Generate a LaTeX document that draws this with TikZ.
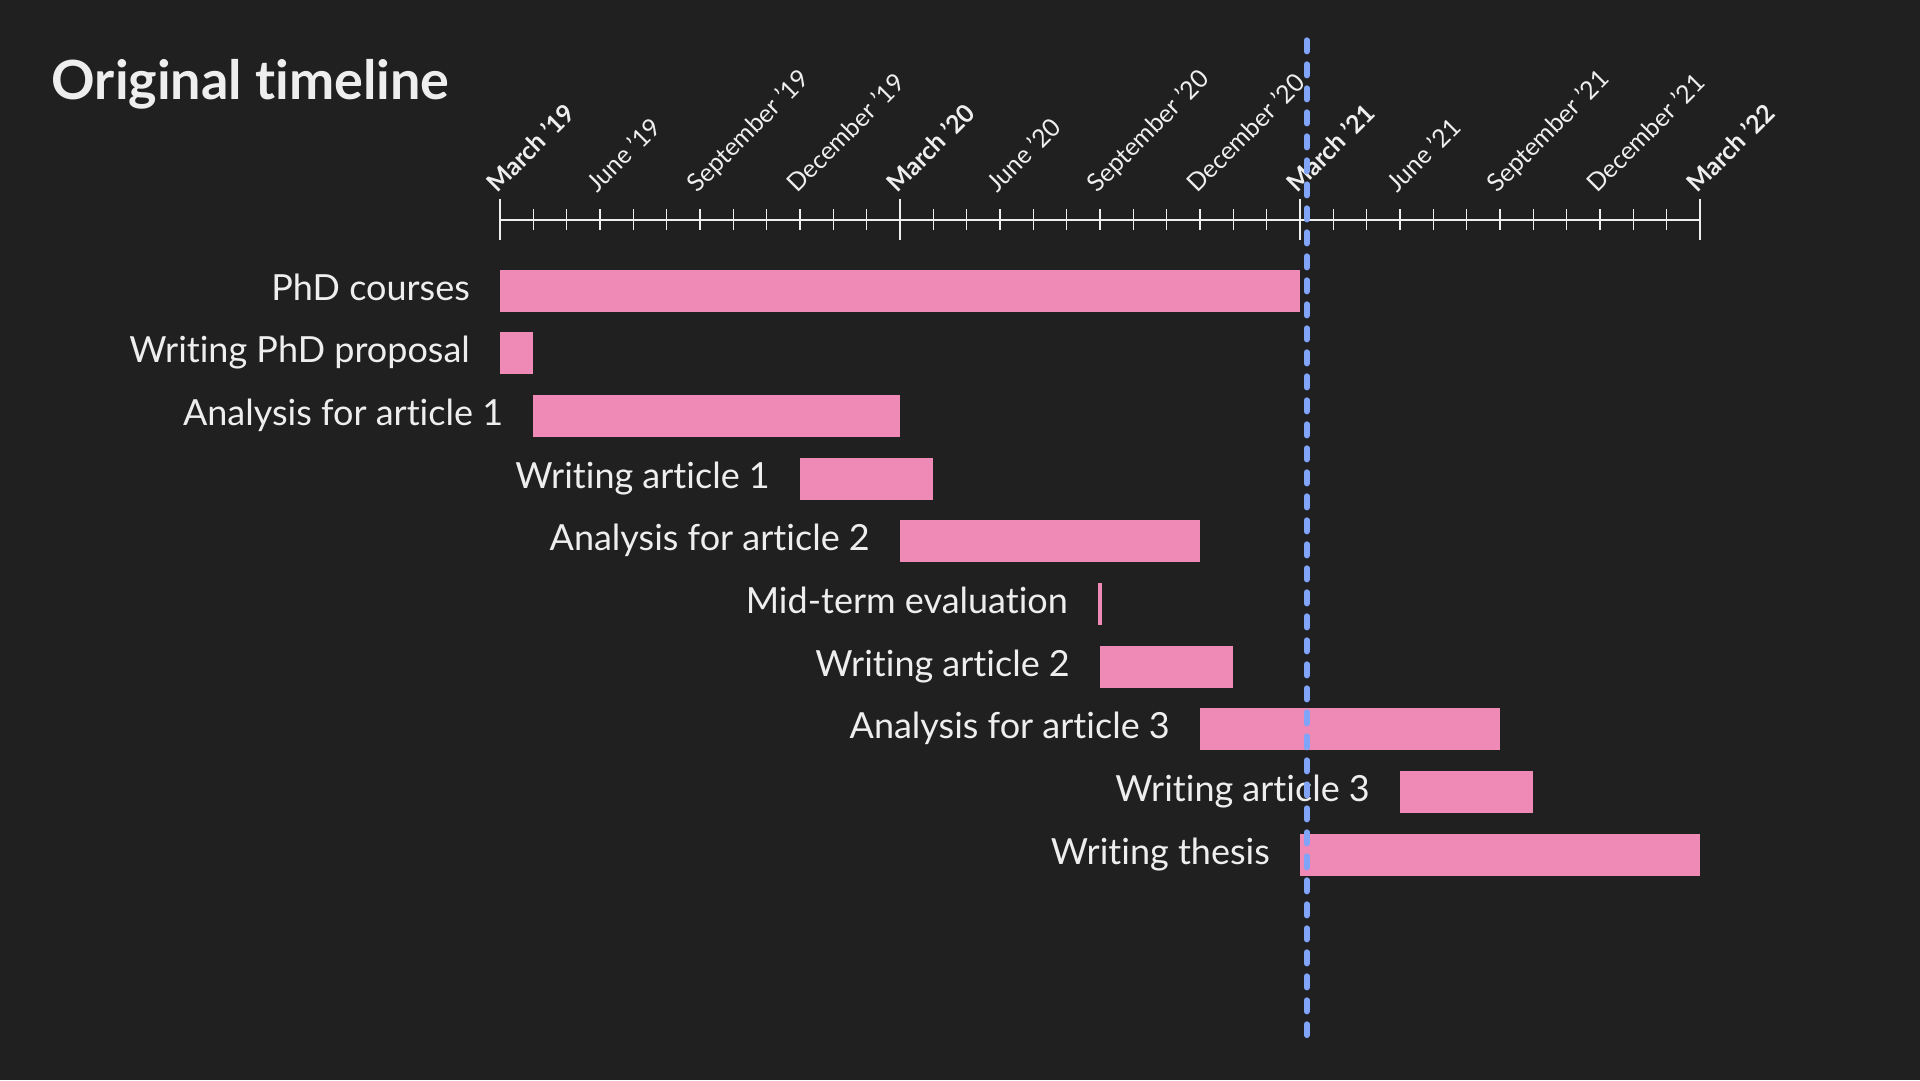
\documentclass[tikz,border=0pt]{standalone}
\usepackage{fontspec}
\setmainfont{Lato}[Ligatures=NoCommon]
\definecolor{bg}{HTML}{202020}
\definecolor{barpink}{HTML}{EF89B5}
\definecolor{nowblue}{HTML}{80A4F8}
\definecolor{txt}{HTML}{EEEEEE}
\begin{document}
\begin{tikzpicture}[x=1pt,y=-1pt,
  bar/.style={fill=barpink, draw=none, inner sep=0pt, outer sep=0pt, minimum height=42pt, anchor=west},
  lbl/.style={text=txt, inner sep=0pt, font=\fontsize{36}{42}\selectfont, anchor=base east},
  title/.style={text=txt, inner sep=0pt, font=\bfseries\fontsize{54}{60}\selectfont, anchor=base west},
  axisline/.style={draw=txt, line width=2pt},
  bigtick/.style={draw=txt, line width=2pt},
  smalltick/.style={draw=txt, line width=1.6pt},
  ticklbl/.style={text=txt, inner sep=0pt, font=\fontsize{25}{29}\selectfont, anchor=base west, rotate=45},
  yearlbl/.style={ticklbl, font=\bfseries\fontsize{25}{29}\selectfont},
  nowline/.style={draw=nowblue, line width=5.7pt, line cap=round, dash pattern=on 11.3pt off 12.7pt}]
\fill[bg] (0,0) rectangle (1920,1080);
\useasboundingbox (0,0) rectangle (1920,1080);

% title
\node[title] (title) at (51.5,99) {Original timeline};

% axis
\coordinate (a0) at (500,220);
\coordinate (a1) at (1700,220);
\draw[axisline] (a0) -- (a1);
\foreach \m in {0,...,36}{
  \pgfmathtruncatemacro\r{mod(\m,12)}
  \ifnum\r=0
    \draw[bigtick] ([yshift=21pt]a0.center) ++(\m*33.3333,0) -- ++(0,41);
  \else
    \draw[smalltick] ([yshift=11pt]a0.center) ++(\m*33.3333,0) -- ++(0,21);
  \fi
}
\foreach \m/\t in {0/{March ’19},12/{March ’20},24/{March ’21},36/{March ’22}}{
  \pgfmathsetmacro\lx{497.5+\m*33.3333}
  \node[yearlbl] (y\m) at (\lx,194) {\t};
}
\foreach \m/\t in {3/{June ’19},6/{September ’19},9/{December ’19},
                   15/{June ’20},18/{September ’20},21/{December ’20},
                   27/{June ’21},30/{September ’21},33/{December ’21}}{
  \pgfmathsetmacro\lx{497.5+\m*33.3333}
  \node[ticklbl] (m\m) at (\lx,194) {\t};
}

% tasks
\foreach \n/\s/\e/\t in {
  1/0/24/{PhD courses},
  2/0/1/{Writing PhD proposal},
  3/1/12/{Analysis for article 1},
  4/9/13/{Writing article 1},
  5/12/21/{Analysis for article 2},
  6/17.94/18.06/{Mid-term evaluation},
  7/18/22/{Writing article 2},
  8/21/30/{Analysis for article 3},
  9/27/31/{Writing article 3},
  10/24/36/{Writing thesis}}{
  \pgfmathsetmacro\bx{500+\s*33.3333}
  \pgfmathsetmacro\bw{(\e-\s)*33.3333}
  \pgfmathsetmacro\by{290.5+(\n-1)*62.67}
  \node[bar, minimum width=\bw pt] (b\n) at (\bx,\by) {};
  \node[lbl] (l\n) at ([xshift=-30pt,yshift=-9.5pt]b\n.west) {\t};
}

% today line
\coordinate (dtop) at (1306.7,40.2);
\coordinate (dbot) at (1306.7,1035.2);
\draw[nowline] (dtop) -- (dbot);
\end{tikzpicture}
\end{document}
